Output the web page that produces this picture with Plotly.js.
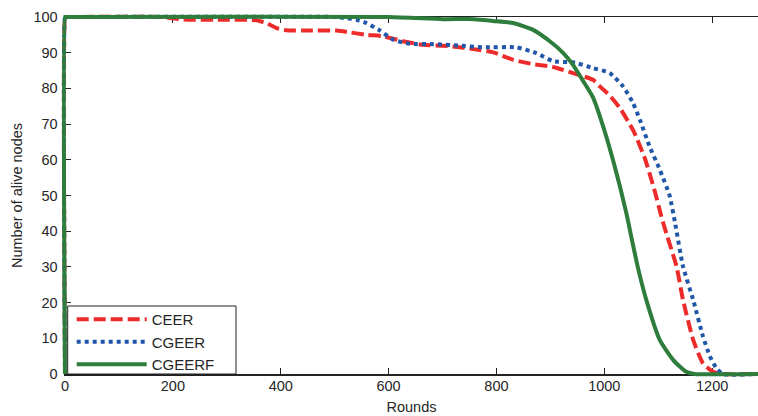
<!DOCTYPE html>
<html><head><meta charset="utf-8">
<script src="https://cdn.plot.ly/plotly-3.0.1.min.js"></script>
<style>html,body{margin:0;padding:0;background:#fff}#chart{width:758px;height:416px}</style>
</head><body><div id="chart"></div>
<script>
const ceerX = [0, 0, 1, 180, 219, 300, 355, 375, 392, 410, 450, 504, 528, 559, 590, 627, 664, 714, 757, 794, 831, 868, 905, 942, 979, 992, 1010, 1029, 1047, 1056, 1075, 1094, 1106, 1115, 1134, 1146, 1165, 1183, 1202, 1220, 1285];
const ceerY = [0, 100, 100, 100, 99.3, 99.2, 99.1, 98.2, 96.9, 96.3, 96.2, 96.2, 95.7, 95, 94.6, 93.2, 92.2, 91.8, 91, 90.1, 88, 86.8, 86, 84.3, 82.4, 80.5, 78, 74.5, 70, 67.5, 60.5, 51, 44, 39.4, 30.1, 20.7, 9.5, 3, 0.6, 0, 0];
const cgeerX = [0, 0, 1, 500, 522, 540, 559, 584, 609, 640, 683, 730, 775, 837, 874, 905, 942, 979, 1010, 1035, 1053, 1066, 1084, 1103, 1121, 1131, 1146, 1165, 1183, 1196, 1208, 1220, 1285];
const cgeerY = [0, 100, 100, 100, 99.7, 99.2, 98.3, 96.2, 93.6, 92.5, 92.4, 92, 91.5, 91.5, 89.9, 87.6, 87.3, 85.7, 84.3, 80.5, 76, 71.2, 63.7, 57.2, 50, 42.5, 30.1, 20.7, 10.5, 4.9, 1.6, 0, 0];
const cgeerfX = [0, 0, 1, 600, 700, 760, 793, 831, 868, 899, 924, 942, 961, 979, 998, 1016, 1029, 1041, 1050, 1062, 1078, 1103, 1128, 1152, 1167, 1285];
const cgeerfY = [0, 100, 100, 100, 99.4, 99.4, 98.9, 98.3, 96.4, 93.2, 89.9, 86.6, 82, 77.5, 69.3, 60, 52.5, 45, 38.5, 30, 20.7, 9.5, 3.9, 0.6, 0, 0];
const xTicks = [0, 200, 400, 600, 800, 1000, 1200];
const yTicks = [0, 10, 20, 30, 40, 50, 60, 70, 80, 90, 100];
const xMax = 1285, yMax = 100;

const font = 'Liberation Sans, Arial, sans-serif';
const txt = '#262626';
const W = 758, H = 416, L = 61, T = 13, B = 38;
const pw = W - L, ph = H - T - B;
const pad = 4; // px of room so edge lines are not clipped
const xPadU = pad * xMax / (pw - pad);
const yPadU = pad * yMax / (ph - 2 * pad);

const common = {mode: 'lines', xaxis: 'x2', yaxis: 'y2'};
const traces = [
  {x: [], y: [], xaxis: 'x', yaxis: 'y', mode: 'lines', showlegend: false, hoverinfo: 'skip'},
  Object.assign({x: ceerX, y: ceerY, name: 'CEER', line: {color: '#EE2B2B', width: 4, dash: '12px,5px', shape: 'spline', smoothing: 0.5}}, common),
  Object.assign({x: cgeerX, y: cgeerY, name: 'CGEER', line: {color: '#2157A8', width: 4, dash: '4px,4px', shape: 'spline', smoothing: 0.5}}, common),
  Object.assign({x: cgeerfX, y: cgeerfY, name: 'CGEERF', line: {color: '#2E7D3C', width: 4, shape: 'spline', smoothing: 0.5}}, common)
];
const legTop = 306, legBot = 374, legL = 67.7, legR = 236;
const layout = {
  width: W, height: H,
  margin: {l: L, r: 0, t: T, b: B},
  paper_bgcolor: '#fff', plot_bgcolor: 'rgba(0,0,0,0)',
  font: {family: font, size: 14, color: txt},
  showlegend: true,
  legend: {x: (legL + 4 - L) / pw, y: (H - B - legTop + 3) / ph, xanchor: 'left', yanchor: 'top', bgcolor: 'rgba(0,0,0,0)', borderwidth: 0,
           font: {family: font, size: 15, color: txt}, itemwidth: 70, tracegroupgap: 0},
  shapes: [{type: 'rect', xref: 'paper', yref: 'paper', layer: 'above',
            x0: (legL - L) / pw, x1: (legR - L) / pw, y0: (H - B - legBot) / ph, y1: (H - B - legTop) / ph,
            fillcolor: '#fff', line: {color: '#222', width: 1}}],
  xaxis: {domain: [pad / pw, 1], anchor: 'y', range: [0, xMax], tickvals: xTicks, ticktext: xTicks.map(String), ticks: 'inside', ticklen: 6, tickcolor: '#222',
          showline: true, linecolor: '#222', linewidth: 1.5, mirror: 'ticks', showgrid: false, zeroline: false, fixedrange: true, ticklabelstandoff: -2,
          title: {text: 'Rounds', font: {family: font, size: 14.5, color: txt}, standoff: 9},
          tickfont: {family: font, size: 14.5, color: txt}},
  yaxis: {domain: [pad / ph, 1 - pad / ph], anchor: 'x', range: [0, yMax], tickvals: yTicks, ticktext: yTicks.map(String), ticks: 'inside', ticklen: 6, tickcolor: '#222',
          showline: true, linecolor: '#222', linewidth: 1.5, showgrid: false, zeroline: false, ticklabelstandoff: 3, fixedrange: true,
          title: {text: 'Number of alive nodes', font: {family: font, size: 14.5, color: txt}, standoff: 7},
          tickfont: {family: font, size: 14.5, color: txt}},
  xaxis2: {domain: [0, 1], anchor: 'y2', range: [-xPadU, xMax], visible: false, fixedrange: true},
  yaxis2: {domain: [0, 1], anchor: 'x2', range: [-yPadU, yMax + yPadU], visible: false, fixedrange: true}
};
Plotly.newPlot('chart', traces, layout, {displayModeBar: false, staticPlot: true});
</script></body></html>
